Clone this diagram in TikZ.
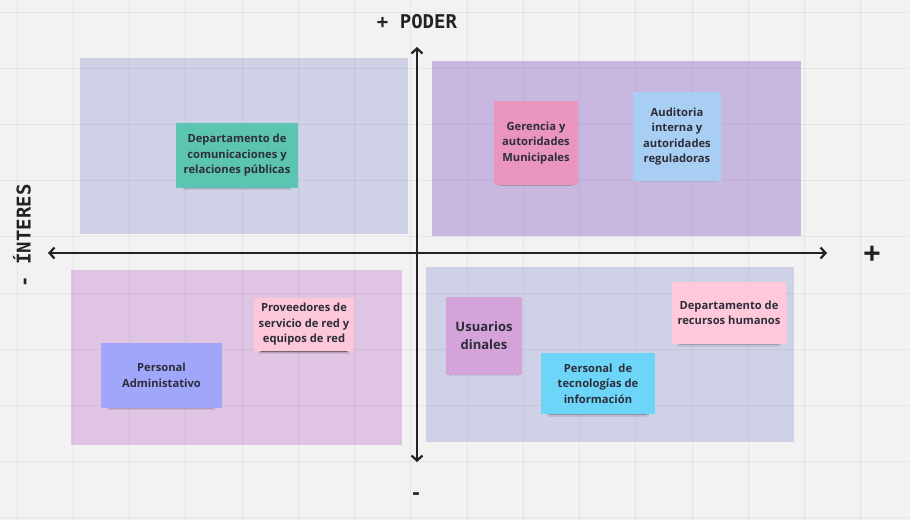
\documentclass[tikz,border=0pt]{standalone}
\usepackage{fontspec}
\setmainfont{Open Sans}
\newfontfamily\axisfont{DejaVu Sans Mono}
\usetikzlibrary{arrows.meta,shadows.blur}
\definecolor{bgc}{HTML}{F2F2F2}
\definecolor{qgray}{HTML}{CFD1E6}
\definecolor{qpurple}{HTML}{C8B8E0}
\definecolor{qpink}{HTML}{DFC5E3}
\definecolor{inkc}{HTML}{222222}
\definecolor{txtc}{HTML}{2D2D3A}
\definecolor{cteal}{HTML}{5CC5B1}
\definecolor{cpink}{HTML}{EA95BE}
\definecolor{cblue}{HTML}{A9CEF3}
\definecolor{clpink}{HTML}{FCC7D9}
\definecolor{cperi}{HTML}{A0A7FB}
\definecolor{cmauve}{HTML}{D4A3D9}
\definecolor{ccyan}{HTML}{6DD6F8}
\definecolor{cpink2}{HTML}{FFC8DB}
\tikzset{
  sticky/.style={rectangle, inner sep=2pt, align=center, text=txtc,
    font=\fontsize{11.2}{15.5}\selectfont\bfseries,
    blur shadow={shadow xshift=0pt, shadow yshift=-5pt, shadow scale=0.85,
      shadow blur radius=3pt, shadow opacity=85}},
  axisline/.style={draw=inkc, line width=2.4pt, line cap=round,
    {Straight Barb[length=5pt,width=11pt,line width=2.2pt]}-{Straight Barb[length=5pt,width=11pt,line width=2.2pt]}},
  axislabel/.style={text=inkc, font=\axisfont\fontsize{19}{21}\selectfont\bfseries, inner sep=0pt},
  gridline/.style={black, opacity=0.05, line width=0.8pt}
}
\begin{document}
\begin{tikzpicture}[x=1pt,y=-1pt]
\useasboundingbox (0,0) rectangle (910,520);
\fill[bgc] (0,0) rectangle (910,520);
% quadrants
\fill[qgray] (80,58) rectangle (408,234);
\fill[qpurple] (432,61) rectangle (801,236);
\fill[qpink] (71,270) rectangle (402,445);
\fill[qgray] (426,267) rectangle (794,442);
% grid
\foreach \i in {0,...,16} {\draw[gridline] ({17+56.25*\i},0) -- ({17+56.25*\i},520);}
\foreach \j in {0,...,9} {\draw[gridline] (0,{12+56.2*\j}) -- (910,{12+56.2*\j});}
% axes
\coordinate (L) at (48,253);
\coordinate (R) at (827,253);
\coordinate (T) at (417,47);
\coordinate (B) at (417,462);
\draw[axisline] (L) -- (R);
\draw[axisline] (T) -- (B);
% axis labels
\node[axislabel] (poder) at (417,22) {+ PODER};
\node[axislabel, rotate=90] (interes) at (22,236) {- ÍNTERES};
\node[axislabel, font=\axisfont\fontsize{28}{30}\selectfont\bfseries] (mas) at (872,254) {+};
\node[axislabel] (menos) at (416,496) {-};
% sticky notes
\node[sticky, fill=cteal, minimum width=122pt, minimum height=65pt] (s1) at (237,155.5)
  {Departamento de\\comunicaciones y\\relaciones públicas};
\node[sticky, fill=cpink, minimum width=84pt, minimum height=84pt] (s2) at (536,143)
  {Gerencia y\\autoridades\\Municipales};
\node[sticky, fill=cblue, minimum width=88pt, minimum height=89pt] (s3) at (677,136.5)
  {Auditoria\\interna y\\autoridades\\reguladoras};
\node[sticky, fill=clpink, minimum width=100pt, minimum height=53pt] (s4) at (304,324.5)
  {Proveedores de\\servicio de red y\\equipos de red};
\node[sticky, fill=cperi, minimum width=121pt, minimum height=65pt] (s5) at (161.5,375.5)
  {Personal\\Administativo};
\node[sticky, fill=cmauve, minimum width=76pt, minimum height=78pt,
  font=\fontsize{13}{18}\selectfont\bfseries] (s6) at (484,336)
  {Usuarios\\ dinales};
\node[sticky, fill=ccyan, minimum width=114pt, minimum height=61pt] (s7) at (598,383.5)
  {Personal\ \ de\\tecnologías de\\información};
\node[sticky, fill=cpink2, minimum width=114pt, minimum height=62pt] (s8) at (729,313)
  {Departamento de\\recursos humanos};
\end{tikzpicture}
\end{document}
